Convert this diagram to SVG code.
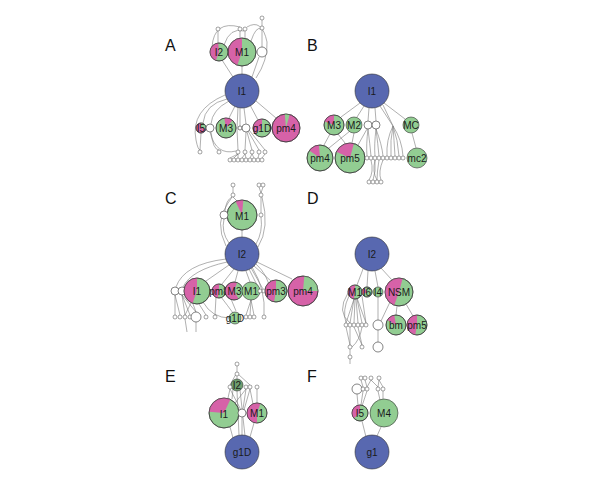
<svg xmlns="http://www.w3.org/2000/svg" width="600" height="488" viewBox="0 0 600 488">
<style>
.bg{fill:#ffffff}
.e{fill:none;stroke:#7a7a7a;stroke-width:0.6}
.b{fill:#5868b0;stroke:#333;stroke-width:0.6}
.g{fill:#92cd92;stroke:#333;stroke-width:0.6}
.p{fill:#d662a8;stroke:#333;stroke-width:0.6}
.pk{fill:#d662a8;stroke:none}
.gr{fill:#92cd92;stroke:none}
.w{fill:#fff;stroke:#333;stroke-width:0.6}
.t{fill:#fff;stroke:#444;stroke-width:0.5}
.lb{font-family:"Liberation Sans",Arial,sans-serif;font-size:10px;fill:#1a1a1a;text-anchor:middle;dominant-baseline:central}
.pl{font-family:"Liberation Sans",Arial,sans-serif;font-size:16px;fill:#111}
</style>
<rect class="bg" width="600" height="488"/>
<text class="pl" x="165" y="51">A</text>
<text class="pl" x="307" y="51">B</text>
<text class="pl" x="165" y="204">C</text>
<text class="pl" x="307" y="204">D</text>
<text class="pl" x="165" y="382">E</text>
<text class="pl" x="307" y="382">F</text>

<g id="connectors">
<!-- Panel A -->
<path class="e" d="M242,66 L242,74"/>
<path class="e" d="M222,60 L233,77"/>
<path class="e" d="M259,57 L252,77"/>
<path class="e" d="M218,43 L218,31"/>
<path class="e" d="M240,38 L240,31"/>
<path class="e" d="M245,38 L245,31"/>
<path class="e" d="M224,45 Q230,27 244,31"/>
<path class="e" d="M212,47 Q214,20 240,27"/>
<path class="e" d="M251,41 Q256,26 261,29"/>
<path class="e" d="M262,47 L262,30"/>
<path class="e" d="M262,26 L262,20"/>
<path class="e" d="M247,27 Q262,18 267,42 Q268,60 256,78"/>
<path class="e" d="M227,99 Q205,104 203,123"/>
<path class="e" d="M229,101 Q212,110 211,124"/>
<path class="e" d="M235,106 L229,118"/>
<path class="e" d="M240,108 L240,126"/>
<path class="e" d="M244,108 L246,124"/>
<path class="e" d="M238,107 Q236,130 238,150"/>
<path class="e" d="M250,105 L258,120"/>
<path class="e" d="M256,101 L276,118"/>
<path class="e" d="M225,95 Q190,110 196,140 Q198,150 200,150"/>
<path class="e" d="M201,133 L200,150"/>
<path class="e" d="M211,132 Q213,150 219,150"/>
<path class="e" d="M210,132 Q216,156 236,151"/>
<path class="e" d="M246,132 L245,150"/>
<path class="e" d="M247,132 L252,150"/>
<path class="e" d="M248,131 L259,150"/>
<path class="e" d="M249,130 L265,150"/>
<path class="e" d="M238,154 L230,158"/>
<path class="e" d="M238,154 L234,158"/>
<path class="e" d="M238,154 L238,158"/>
<path class="e" d="M245,154 L242,158"/>
<path class="e" d="M245,154 L246,158"/>
<path class="e" d="M252,154 L250,158"/>
<path class="e" d="M252,154 L254,158"/>
<path class="e" d="M259,154 L258,158"/>
<path class="e" d="M265,154 L262,158"/>
<!-- Panel B -->
<path class="e" d="M360,103 L341,117"/>
<path class="e" d="M364,106 L357,117"/>
<path class="e" d="M369,108 L368,121"/>
<path class="e" d="M375,108 L376,121"/>
<path class="e" d="M384,103 L405,119"/>
<path class="e" d="M380,106 L393,126"/>
<path class="e" d="M383,105 L393,126"/>
<path class="e" d="M393,126 Q386,140 387,156"/>
<path class="e" d="M393,126 Q390,140 391,156"/>
<path class="e" d="M393,126 Q394,140 395,156"/>
<path class="e" d="M393,126 Q398,140 399,156"/>
<path class="e" d="M393,126 Q402,140 403,156"/>
<path class="e" d="M330,134 L324,145"/>
<path class="e" d="M338,134 L345,143"/>
<path class="e" d="M350,131 L329,148"/>
<path class="e" d="M354,133 L352,143"/>
<path class="e" d="M367,129 L358,145"/>
<path class="e" d="M368,129 Q366,145 367,156"/>
<path class="e" d="M368,129 Q370,145 371,156"/>
<path class="e" d="M376,129 Q374,145 375,156"/>
<path class="e" d="M376,129 Q378,145 379,156"/>
<path class="e" d="M376,129 Q382,145 383,156"/>
<path class="e" d="M412,133 L416,148"/>
<path class="e" d="M371,160 Q374,172 369,180"/>
<path class="e" d="M375,160 Q376,172 373,180"/>
<path class="e" d="M379,160 Q377,172 377,180"/>
<path class="e" d="M383,160 Q378,172 381,180"/>
<path class="e" d="M375,160 Q372,172 377,180"/>
<!-- Panel C -->
<path class="e" d="M242,237 L242,230"/>
<path class="e" d="M229,243 Q221,232 224,219"/>
<path class="e" d="M225,211 Q226,200 232,197"/>
<path class="e" d="M226,246 Q214,222 228,203 Q231,199 232,197"/>
<path class="e" d="M237,201 L233,197"/>
<path class="e" d="M233,193 L233,187"/>
<path class="e" d="M256,244 Q263,232 261,217"/>
<path class="e" d="M258,247 Q270,228 262,197"/>
<path class="e" d="M261,213 L261,197"/>
<path class="e" d="M261,193 L259,187"/>
<path class="e" d="M261,193 L263,187"/>
<path class="e" d="M226,259 Q184,264 176,287"/>
<path class="e" d="M227,262 Q191,270 183,287"/>
<path class="e" d="M229,265 L206,281"/>
<path class="e" d="M234,269 L222,284"/>
<path class="e" d="M238,271 L235,282"/>
<path class="e" d="M246,271 L250,282"/>
<path class="e" d="M249,269 L259,289"/>
<path class="e" d="M251,268 L263,289"/>
<path class="e" d="M254,266 L271,281"/>
<path class="e" d="M257,262 L292,279"/>
<path class="e" d="M252,267 Q266,290 264,315"/>
<path class="e" d="M256,264 Q268,275 270,290"/>
<path class="e" d="M175,295 L175,315"/>
<path class="e" d="M175,295 L180,315"/>
<path class="e" d="M182,295 L185,315"/>
<path class="e" d="M182,295 L190,315"/>
<path class="e" d="M182,295 L196,312"/>
<path class="e" d="M191,303 L185,315"/>
<path class="e" d="M193,304 L196,312"/>
<path class="e" d="M199,304 L206,315"/>
<path class="e" d="M203,302 Q212,318 230,318"/>
<path class="e" d="M221,297 Q228,306 233,313"/>
<path class="e" d="M216,297 L215,315"/>
<path class="e" d="M231,299 L236,311"/>
<path class="e" d="M251,300 L246,315"/>
<path class="e" d="M251,300 L250,315"/>
<path class="e" d="M251,300 L254,315"/>
<path class="e" d="M196,322 L196,332"/>
<path class="e" d="M185,319 L187,332"/>
<!-- Panel D -->
<path class="e" d="M363,269 L357,285"/>
<path class="e" d="M368,271 L367,287"/>
<path class="e" d="M375,271 L378,287"/>
<path class="e" d="M381,268 L392,280"/>
<path class="e" d="M397,306 L396,315"/>
<path class="e" d="M406,304 L413,316"/>
<path class="e" d="M390,302 L381,321"/>
<path class="e" d="M378,297 L378,320"/>
<path class="e" d="M378,330 L378,342"/>
<path class="e" d="M354,299 L346,323"/>
<path class="e" d="M354,299 L350,323"/>
<path class="e" d="M355,299 L354,323"/>
<path class="e" d="M356,299 L358,323"/>
<path class="e" d="M357,299 L362,323"/>
<path class="e" d="M357,298 L366,323"/>
<path class="e" d="M349,296 Q342,310 346,323"/>
<path class="e" d="M348,293 Q336,312 350,323"/>
<path class="e" d="M362,296 L366,323"/>
<path class="e" d="M346,327 L350,345"/>
<path class="e" d="M350,327 L350,345"/>
<path class="e" d="M354,327 L362,345"/>
<path class="e" d="M358,327 L362,345"/>
<path class="e" d="M362,327 Q360,340 352,347"/>
<path class="e" d="M350,349 L350,355"/>
<path class="e" d="M350,359 L350,364"/>
<!-- Panel E -->
<path class="e" d="M233,438 L230,427"/>
<path class="e" d="M250,437 L254,423"/>
<path class="e" d="M242,435 L242,417"/>
<path class="e" d="M239,435 L237,391"/>
<path class="e" d="M245,436 L240,390"/>
<path class="e" d="M237,379 L237,376"/>
<path class="e" d="M237,373 L237,366"/>
<path class="e" d="M236,374 L230,385"/>
<path class="e" d="M238,374 L250,385"/>
<path class="e" d="M230,389 L241,410"/>
<path class="e" d="M246,389 L243,409"/>
<path class="e" d="M250,389 L244,410"/>
<path class="e" d="M257,389 L257,403"/>
<path class="e" d="M230,389 L228,398"/>
<path class="e" d="M246,389 L235,403"/>
<path class="e" d="M233,389 L232,399"/>
<path class="e" d="M250,389 L253,404"/>
<!-- Panel F -->
<path class="e" d="M366,437 L362,421"/>
<path class="e" d="M377,436 L381,427"/>
<path class="e" d="M358,405 L357,394"/>
<path class="e" d="M361,405 L363,391"/>
<path class="e" d="M362,406 L367,391"/>
<path class="e" d="M380,400 L378,391"/>
<path class="e" d="M383,399 L383,391"/>
<path class="e" d="M361,380 L363,387"/>
<path class="e" d="M365,380 L367,387"/>
<path class="e" d="M371,380 L367,387"/>
<path class="e" d="M371,380 L378,387"/>
<path class="e" d="M379,380 L383,387"/>
<path class="e" d="M379,380 L378,387"/>
</g>

<!-- Panel A nodes -->
<g id="A-I1"><circle class="b" cx="242" cy="91" r="17"/><text class="lb" x="242" y="91">I1</text></g>
<g id="A-M1"><circle class="g" cx="242" cy="52" r="14"/><path class="pk" d="M242,52 L237.21,65.16 A14,14 0 0 1 242,38 Z"/><circle cx="242" cy="52" r="14" fill="none" stroke="#333" stroke-width="0.6"/><text class="lb" x="242" y="52" font-size="11">M1</text></g>
<g id="A-I2"><circle class="g" cx="219" cy="52" r="9"/><path class="pk" d="M219,52 L215.92,60.46 A9,9 0 0 1 218.22,43.03 Z"/><circle cx="219" cy="52" r="9" fill="none" stroke="#333" stroke-width="0.6"/><text class="lb" x="219" y="52">I2</text></g>
<g id="A-w1"><circle class="w" cx="262" cy="52" r="5"/></g>
<g id="A-t1"><circle class="t" cx="218" cy="29" r="2"/></g>
<g id="A-t2"><circle class="t" cx="240" cy="29" r="2"/></g>
<g id="A-t3"><circle class="t" cx="245" cy="29" r="2"/></g>
<g id="A-t4"><circle class="t" cx="262" cy="28" r="2"/></g>
<g id="A-t5"><circle class="t" cx="262" cy="18" r="2"/></g>
<g id="A-I5"><circle class="p" cx="201" cy="128" r="5"/><path class="gr" d="M201,128 L201,123 A5,5 0 0 1 205.92,128.87 Z"/><circle cx="201" cy="128" r="5" fill="none" stroke="#333" stroke-width="0.6"/><text class="lb" x="201" y="128" font-size="8">I5</text></g>
<g id="A-w2"><circle class="w" cx="210" cy="128" r="4"/></g>
<g id="A-M3"><circle class="g" cx="226" cy="128" r="10"/><path class="pk" d="M226,128 L224.26,118.15 A10,10 0 0 1 232.43,120.34 Z"/><circle cx="226" cy="128" r="10" fill="none" stroke="#333" stroke-width="0.6"/><text class="lb" x="226" y="128">M3</text></g>
<g id="A-w3"><circle class="w" cx="240" cy="128" r="2"/></g>
<g id="A-w4"><circle class="w" cx="246" cy="128" r="4"/></g>
<g id="A-g1D"><circle class="g" cx="262" cy="128" r="9"/><path class="pk" d="M262,128 L255.11,133.79 A9,9 0 0 1 262,119 Z"/><circle cx="262" cy="128" r="9" fill="none" stroke="#333" stroke-width="0.6"/><text class="lb" x="262" y="128" font-size="9">g1D</text></g>
<g id="A-pm4"><circle class="p" cx="286" cy="128" r="14"/><path class="gr" d="M286,128 L284.78,114.05 A14,14 0 0 1 289.62,114.48 Z"/><circle cx="286" cy="128" r="14" fill="none" stroke="#333" stroke-width="0.6"/><text class="lb" x="286" y="128">pm4</text></g>
<g id="A-b1"><circle class="t" cx="200" cy="152" r="2"/></g>
<g id="A-b2"><circle class="t" cx="219" cy="152" r="2"/></g>
<g id="A-b3"><circle class="t" cx="238" cy="152" r="2"/></g>
<g id="A-b4"><circle class="t" cx="245" cy="152" r="2"/></g>
<g id="A-b5"><circle class="t" cx="252" cy="152" r="2"/></g>
<g id="A-b6"><circle class="t" cx="259" cy="152" r="2"/></g>
<g id="A-b7"><circle class="t" cx="265" cy="152" r="2"/></g>
<g id="A-c1"><circle class="t" cx="230" cy="160" r="2"/></g>
<g id="A-c2"><circle class="t" cx="234" cy="160" r="2"/></g>
<g id="A-c3"><circle class="t" cx="238" cy="160" r="2"/></g>
<g id="A-c4"><circle class="t" cx="242" cy="160" r="2"/></g>
<g id="A-c5"><circle class="t" cx="246" cy="160" r="2"/></g>
<g id="A-c6"><circle class="t" cx="250" cy="160" r="2"/></g>
<g id="A-c7"><circle class="t" cx="254" cy="160" r="2"/></g>
<g id="A-c8"><circle class="t" cx="258" cy="160" r="2"/></g>
<g id="A-c9"><circle class="t" cx="262" cy="160" r="2"/></g>

<!-- Panel B nodes -->
<g id="B-I1"><circle class="b" cx="372" cy="91" r="17"/><text class="lb" x="372" y="91">I1</text></g>
<g id="B-M3"><circle class="g" cx="334" cy="125" r="10"/><path class="pk" d="M334,125 L324.60,121.58 A10,10 0 0 1 334,115 Z"/><circle cx="334" cy="125" r="10" fill="none" stroke="#333" stroke-width="0.6"/><text class="lb" x="334" y="125">M3</text></g>
<g id="B-M2"><circle class="g" cx="354" cy="125" r="8"/><text class="lb" x="354" y="125">M2</text></g>
<g id="B-w1"><circle class="w" cx="368" cy="125" r="4"/></g>
<g id="B-w2"><circle class="w" cx="376" cy="125" r="4"/></g>
<g id="B-MC"><circle class="g" cx="411" cy="125" r="8"/><text class="lb" x="411" y="125">MC</text></g>
<g id="B-pm4"><circle class="g" cx="320" cy="158" r="13"/><path class="pk" d="M320,158 L309.35,150.54 A13,13 0 0 1 318.87,145.05 Z"/><circle cx="320" cy="158" r="13" fill="none" stroke="#333" stroke-width="0.6"/><text class="lb" x="320" y="158">pm4</text></g>
<g id="B-pm5"><circle class="g" cx="350" cy="158" r="15"/><path class="pk" d="M350,158 L336.41,151.66 A15,15 0 0 1 353.88,143.51 Z"/><circle cx="350" cy="158" r="15" fill="none" stroke="#333" stroke-width="0.6"/><text class="lb" x="350" y="158">pm5</text></g>
<g id="B-mc2"><circle class="g" cx="417" cy="158" r="10"/><text class="lb" x="417" y="158">mc2</text></g>
<g id="B-t1"><circle class="t" cx="367" cy="158" r="2"/></g>
<g id="B-t2"><circle class="t" cx="371" cy="158" r="2"/></g>
<g id="B-t3"><circle class="t" cx="375" cy="158" r="2"/></g>
<g id="B-t4"><circle class="t" cx="379" cy="158" r="2"/></g>
<g id="B-t5"><circle class="t" cx="383" cy="158" r="2"/></g>
<g id="B-t6"><circle class="t" cx="387" cy="158" r="2"/></g>
<g id="B-t7"><circle class="t" cx="391" cy="158" r="2"/></g>
<g id="B-t8"><circle class="t" cx="395" cy="158" r="2"/></g>
<g id="B-t9"><circle class="t" cx="399" cy="158" r="2"/></g>
<g id="B-t10"><circle class="t" cx="403" cy="158" r="2"/></g>
<g id="B-u1"><circle class="t" cx="369" cy="182" r="2"/></g>
<g id="B-u2"><circle class="t" cx="373" cy="182" r="2"/></g>
<g id="B-u3"><circle class="t" cx="377" cy="182" r="2"/></g>
<g id="B-u4"><circle class="t" cx="381" cy="182" r="2"/></g>

<!-- Panel C nodes -->
<g id="C-I2"><circle class="b" cx="242" cy="254" r="17"/><text class="lb" x="242" y="254">I2</text></g>
<g id="C-M1"><circle class="g" cx="242" cy="215" r="15"/><path class="pk" d="M242,215 L235.66,201.41 A15,15 0 0 1 243.31,200.06 Z"/><circle cx="242" cy="215" r="15" fill="none" stroke="#333" stroke-width="0.6"/><text class="lb" x="242" y="216">M1</text></g>
<g id="C-w1"><circle class="w" cx="224" cy="215" r="4"/></g>
<g id="C-w2"><circle class="t" cx="261" cy="215" r="2"/></g>
<g id="C-t1"><circle class="t" cx="233" cy="185" r="2"/></g>
<g id="C-t2"><circle class="t" cx="233" cy="195" r="2"/></g>
<g id="C-t3"><circle class="t" cx="259" cy="185" r="2"/></g>
<g id="C-t4"><circle class="t" cx="263" cy="185" r="2"/></g>
<g id="C-t5"><circle class="t" cx="261" cy="195" r="2"/></g>
<g id="C-w3"><circle class="w" cx="175" cy="291" r="4"/></g>
<g id="C-w4"><circle class="w" cx="182" cy="291" r="4"/></g>
<g id="C-I1"><circle class="g" cx="197" cy="291" r="13"/><path class="pk" d="M197,291 L192.55,303.22 A13,13 0 0 1 197,278 Z"/><circle cx="197" cy="291" r="13" fill="none" stroke="#333" stroke-width="0.6"/><text class="lb" x="197" y="291">I1</text></g>
<g id="C-pm8"><circle class="g" cx="219" cy="291" r="7"/><path class="pk" d="M219,291 L217.78,297.89 A7,7 0 0 1 219,284 Z"/><circle cx="219" cy="291" r="7" fill="none" stroke="#333" stroke-width="0.6"/><text class="lb" x="219" y="291" font-size="5.5">pm8</text></g>
<g id="C-M3"><circle class="p" cx="234" cy="291" r="9"/><path class="gr" d="M234,291 L237.08,282.54 A9,9 0 0 1 238.5,298.79 Z"/><circle cx="234" cy="291" r="9" fill="none" stroke="#333" stroke-width="0.6"/><text class="lb" x="234.5" y="291" font-size="9">M3</text></g>
<g id="C-M1b"><circle class="g" cx="251" cy="291" r="9"/><text class="lb" x="251" y="291" font-size="9">M1</text></g>
<g id="C-t6"><circle class="t" cx="260" cy="291" r="2"/></g>
<g id="C-t7"><circle class="t" cx="264" cy="291" r="2"/></g>
<g id="C-pm3"><circle class="g" cx="276" cy="291" r="11"/><path class="pk" d="M276,291 L274.09,301.83 A11,11 0 0 1 276,280 Z"/><circle cx="276" cy="291" r="11" fill="none" stroke="#333" stroke-width="0.6"/><text class="lb" x="276" y="291">pm3</text></g>
<g id="C-pm4"><circle class="p" cx="303" cy="291" r="15"/><path class="gr" d="M303,291 L304.31,276.06 A15,15 0 0 1 318,291 Z"/><circle cx="303" cy="291" r="15" fill="none" stroke="#333" stroke-width="0.6"/><text class="lb" x="303" y="291">pm4</text></g>
<g id="C-b1"><circle class="t" cx="175" cy="317" r="2"/></g>
<g id="C-b2"><circle class="t" cx="180" cy="317" r="2"/></g>
<g id="C-b3"><circle class="t" cx="185" cy="317" r="2"/></g>
<g id="C-b4"><circle class="t" cx="190" cy="317" r="2"/></g>
<g id="C-w5"><circle class="w" cx="196" cy="317" r="5"/></g>
<g id="C-b5"><circle class="t" cx="206" cy="317" r="2"/></g>
<g id="C-b6"><circle class="t" cx="215" cy="317" r="2"/></g>
<g id="C-g1D"><circle class="g" cx="235" cy="318" r="6"/><text class="lb" x="235" y="318" font-size="6">g1D</text></g>
<g id="C-b7"><circle class="t" cx="246" cy="317" r="2"/></g>
<g id="C-b8"><circle class="t" cx="250" cy="317" r="2"/></g>
<g id="C-b9"><circle class="t" cx="254" cy="317" r="2"/></g>
<g id="C-b10"><circle class="t" cx="264" cy="317" r="2"/></g>

<!-- Panel D nodes -->
<g id="D-I2"><circle class="b" cx="372" cy="254" r="17"/><text class="lb" x="372" y="254">I2</text></g>
<g id="D-M1"><circle class="g" cx="355" cy="292" r="7"/><path class="pk" d="M355,292 L353.78,298.89 A7,7 0 0 1 355,285 Z"/><circle cx="355" cy="292" r="7" fill="none" stroke="#333" stroke-width="0.6"/><text class="lb" x="355" y="292" font-size="8.5">M1</text></g>
<g id="D-I6"><circle class="g" cx="367" cy="292" r="5"/><path class="pk" d="M367,292 L362.67,294.5 A5,5 0 0 1 364.5,287.67 Z"/><circle cx="367" cy="292" r="5" fill="none" stroke="#333" stroke-width="0.6"/><text class="lb" x="367" y="292" font-size="8">I6</text></g>
<g id="D-I4"><circle class="g" cx="378" cy="292" r="5"/><text class="lb" x="378" y="292" font-size="8">I4</text></g>
<g id="D-NSM"><circle class="g" cx="399" cy="292" r="14"/><path class="pk" d="M399,292 L394.21,305.16 A14,14 0 0 1 402.62,278.48 Z"/><circle cx="399" cy="292" r="14" fill="none" stroke="#333" stroke-width="0.6"/><text class="lb" x="399" y="292">NSM</text></g>
<g id="D-bm"><circle class="g" cx="396" cy="325" r="10"/><path class="pk" d="M396,325 L387.34,320 A10,10 0 0 1 394.26,315.15 Z"/><circle cx="396" cy="325" r="10" fill="none" stroke="#333" stroke-width="0.6"/><text class="lb" x="396" y="325">bm</text></g>
<g id="D-pm5"><circle class="g" cx="417" cy="325" r="10"/><path class="pk" d="M417,325 L415.26,334.85 A10,10 0 0 1 417,315 Z"/><circle cx="417" cy="325" r="10" fill="none" stroke="#333" stroke-width="0.6"/><text class="lb" x="417" y="325">pm5</text></g>
<g id="D-t1"><circle class="t" cx="346" cy="325" r="2"/></g>
<g id="D-t2"><circle class="t" cx="350" cy="325" r="2"/></g>
<g id="D-t3"><circle class="t" cx="354" cy="325" r="2"/></g>
<g id="D-t4"><circle class="t" cx="358" cy="325" r="2"/></g>
<g id="D-t5"><circle class="t" cx="362" cy="325" r="2"/></g>
<g id="D-t6"><circle class="t" cx="366" cy="325" r="2"/></g>
<g id="D-w1"><circle class="w" cx="378" cy="325" r="5"/></g>
<g id="D-w2"><circle class="w" cx="378" cy="347" r="5"/></g>
<g id="D-t7"><circle class="t" cx="350" cy="347" r="2"/></g>
<g id="D-t8"><circle class="t" cx="362" cy="347" r="2"/></g>
<g id="D-t9"><circle class="t" cx="350" cy="357" r="2"/></g>

<!-- Panel E nodes -->
<g id="E-g1D"><circle class="b" cx="242" cy="452" r="17"/><text class="lb" x="242" y="452">g1D</text></g>
<g id="E-I1"><circle class="g" cx="224" cy="413" r="15"/><path class="pk" d="M224,413 L209.06,411.69 A15,15 0 0 1 230.34,399.41 Z"/><circle cx="224" cy="413" r="15" fill="none" stroke="#333" stroke-width="0.6"/><text class="lb" x="224" y="414">I1</text></g>
<g id="E-M1"><circle class="g" cx="257" cy="413" r="10"/><path class="pk" d="M257,413 L257,423 A10,10 0 1 1 260.42,403.60 Z"/><circle cx="257" cy="413" r="10" fill="none" stroke="#333" stroke-width="0.6"/><text class="lb" x="257" y="413">M1</text></g>
<g id="E-w1"><circle class="w" cx="242" cy="413" r="4"/></g>
<g id="E-I2"><circle class="g" cx="237" cy="385" r="6" style="fill:#6f9f6f"/><text class="lb" x="237" y="385" font-size="8.5">I2</text></g>
<g id="E-t1"><circle class="t" cx="237" cy="364" r="2"/></g>
<g id="E-t2"><circle class="t" cx="237" cy="374" r="2"/></g>
<g id="E-t3"><circle class="t" cx="230" cy="387" r="2"/></g>
<g id="E-t4"><circle class="t" cx="246" cy="387" r="2"/></g>
<g id="E-t5"><circle class="t" cx="250" cy="387" r="2"/></g>
<g id="E-t6"><circle class="t" cx="257" cy="387" r="2"/></g>

<!-- Panel F nodes -->
<g id="F-g1"><circle class="b" cx="372" cy="452" r="17"/><text class="lb" x="372" y="452">g1</text></g>
<g id="F-I5"><circle class="g" cx="360" cy="413" r="8"/><path class="pk" d="M360,413 L353.87,418.14 A8,8 0 0 1 360,405 Z"/><circle cx="360" cy="413" r="8" fill="none" stroke="#333" stroke-width="0.6"/><text class="lb" x="360" y="413">I5</text></g>
<g id="F-M4"><circle class="g" cx="384" cy="413" r="14"/><text class="lb" x="384" y="413">M4</text></g>
<g id="F-w1"><circle class="w" cx="357" cy="389" r="5"/></g>
<g id="F-t1"><circle class="t" cx="363" cy="389" r="2"/></g>
<g id="F-t2"><circle class="t" cx="367" cy="389" r="2"/></g>
<g id="F-t3"><circle class="t" cx="378" cy="389" r="2"/></g>
<g id="F-t4"><circle class="t" cx="383" cy="389" r="2"/></g>
<g id="F-t5"><circle class="t" cx="361" cy="378" r="2"/></g>
<g id="F-t6"><circle class="t" cx="365" cy="378" r="2"/></g>
<g id="F-t7"><circle class="t" cx="371" cy="378" r="2"/></g>
<g id="F-t8"><circle class="t" cx="379" cy="378" r="2"/></g>
</svg>
